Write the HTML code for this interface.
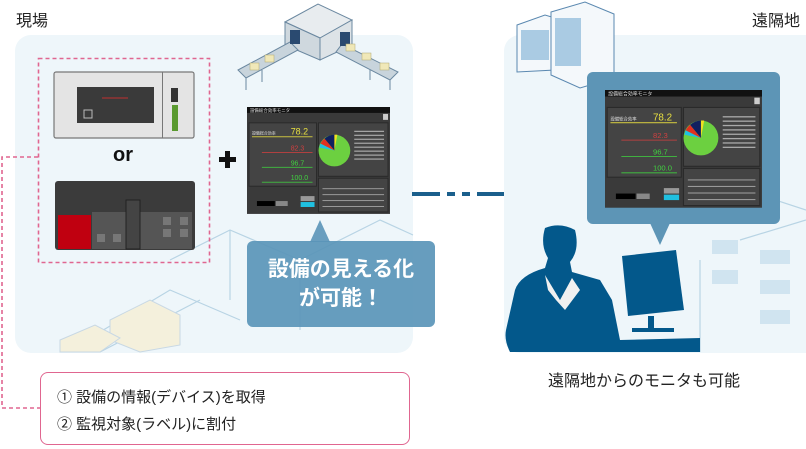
<!DOCTYPE html>
<html><head><meta charset="utf-8"><style>
body{margin:0;width:806px;height:449px;background:#fff;position:relative;overflow:hidden;font-family:"Liberation Sans","Noto Sans CJK JP",sans-serif;}
.abs{position:absolute}
</style></head><body>
<svg class="abs" style="left:0;top:0" width="806" height="449" viewBox="0 0 806 449">
<defs>
<g id="scr">
<rect x="0" y="0" width="144" height="108" fill="#3a3a3a"/>
<rect x="0" y="0" width="144" height="6" fill="#111"/>
<text x="3" y="5" font-size="4.5" fill="#ddd" font-family="Noto Sans CJK JP">設備総合効率モニタ</text>
<rect x="137" y="7" width="5" height="6" fill="#ccc"/>
<rect x="2" y="16" width="68" height="64" fill="#444" stroke="#2a2a2a"/>
<text x="5" y="28" font-size="4" fill="#ddd" font-family="Noto Sans CJK JP">設備総合効率</text>
<text x="44" y="28" font-size="9" fill="#e8e040">78.2</text>
<line x1="5" y1="30" x2="66" y2="30" stroke="#c8c040"/>
<text x="44" y="44" font-size="7" fill="#d04040">82.3</text><line x1="15" y1="46" x2="66" y2="46" stroke="#b04040"/>
<text x="44" y="59" font-size="7" fill="#40d040">96.7</text><line x1="15" y1="61" x2="66" y2="61" stroke="#40b040"/>
<text x="44" y="74" font-size="7" fill="#40d040">100.0</text><line x1="15" y1="76" x2="66" y2="76" stroke="#40b040"/>
<rect x="72" y="16" width="70" height="54" fill="#444" stroke="#2a2a2a"/>
<circle cx="88" cy="44" r="16" fill="#6cd040"/>
<path d="M88 44 L78 32 A16 16 0 0 1 90 28 Z" fill="#102060"/>
<path d="M88 44 L74 37 A16 16 0 0 1 78 32 Z" fill="#e03020"/>
<path d="M88 44 L73 41 A16 16 0 0 1 74 37 Z" fill="#20c0e0"/>
<path d="M88 44 L88 28 A16 16 0 0 1 91 28 Z" fill="#f0e020"/>
<g fill="#aaa"><rect x="108" y="24" width="30" height="1.2"/><rect x="108" y="28" width="30" height="1.2"/><rect x="108" y="32" width="30" height="1.2"/><rect x="108" y="36" width="30" height="1.2"/><rect x="108" y="40" width="30" height="1.2"/><rect x="108" y="44" width="30" height="1.2"/><rect x="108" y="48" width="30" height="1.2"/><rect x="108" y="52" width="30" height="1.2"/></g>
<rect x="72" y="72" width="70" height="34" fill="#444" stroke="#2a2a2a"/>
<g fill="#999"><rect x="76" y="82" width="62" height="1"/><rect x="76" y="88" width="62" height="1"/><rect x="76" y="94" width="62" height="1"/><rect x="76" y="100" width="62" height="1"/></g>
<rect x="10" y="95" width="18" height="5" fill="#000"/><rect x="29" y="95" width="12" height="5" fill="#888"/>
<rect x="54" y="90" width="14" height="5" fill="#999"/><rect x="54" y="96" width="14" height="5" fill="#20c0e0"/>
</g>
</defs>
<rect x="15" y="35" width="398" height="318" rx="16" fill="#eef6fa"/>
<rect x="504" y="35" width="320" height="318" rx="16" fill="#eef6fa"/>
<g stroke="#b8d4e4" fill="none" stroke-width="1.2">
<path d="M170 260 L230 230 L300 260 L300 330 M230 230 L230 300 M300 260 L380 220 L413 235"/>
<path d="M70 350 L170 290 L240 320 M100 352 L200 300"/>
<path d="M700 210 L760 195 L806 210 M700 260 L700 352 M740 240 L806 220"/>
</g>
<g fill="#f4f0dc" stroke="#c8d8e4"><path d="M110 320 L150 300 L180 315 L180 345 L140 352 L110 340 Z"/><path d="M60 340 L95 325 L120 338 L100 352 L60 352 Z"/></g>
<g fill="#d0e4f0"><rect x="760" y="250" width="30" height="14"/><rect x="760" y="280" width="30" height="14"/><rect x="760" y="310" width="30" height="14"/><rect x="712" y="240" width="26" height="14"/><rect x="712" y="270" width="26" height="14"/></g>
<!-- top factory machine -->
<g stroke="#6b88a0" stroke-width="1">
<path d="M285 22 L318 4 L352 20 L320 38 Z" fill="#e8ecef"/>
<path d="M285 22 L320 38 L320 60 L285 45 Z" fill="#cfd8de"/>
<path d="M320 38 L352 20 L352 45 L320 60 Z" fill="#dde3e7"/>
<path d="M238 70 L290 42 L298 50 L246 78 Z" fill="#c8d4dc"/>
<path d="M342 44 L398 72 L390 80 L336 52 Z" fill="#c8d4dc"/>
</g>
<g fill="#2a4a70"><rect x="290" y="30" width="10" height="14"/><rect x="340" y="32" width="10" height="14"/></g>
<g stroke="#6b88a0"><line x1="246" y1="78" x2="246" y2="90"/><line x1="262" y1="70" x2="262" y2="82"/><line x1="390" y1="80" x2="390" y2="90"/><line x1="370" y1="70" x2="370" y2="80"/></g>
<g fill="#f0e8b8" stroke="#b0a870" stroke-width=".5"><rect x="250" y="63" width="9" height="7"/><rect x="265" y="55" width="9" height="7"/><rect x="346" y="44" width="9" height="7"/><rect x="362" y="53" width="9" height="7"/><rect x="380" y="63" width="9" height="7"/></g>
<!-- buildings top right -->
<g stroke="#5a88b0" stroke-width="1" fill="#f4f8fb">
<path d="M517 25 L545 15 L555 18 L555 70 L517 72 Z"/>
<path d="M551 12 L585 2 L614 14 L614 78 L580 88 L551 75 Z"/>
</g>
<g fill="#8ab8d8"><rect x="521" y="30" width="28" height="30" opacity=".7"/><rect x="555" y="18" width="26" height="48" opacity=".7"/></g>
<rect x="38.5" y="58.5" width="171" height="204" fill="none" stroke="#e06690" stroke-width="1.6" stroke-dasharray="4 3"/>
<path d="M38 157 L2 157 L2 408 L40 408" fill="none" stroke="#e06690" stroke-width="1.6" stroke-dasharray="4 3"/>
<rect x="54" y="72" width="140" height="66" rx="2" fill="#e4e4e4" stroke="#777" stroke-width="1.2"/>
<rect x="77" y="87" width="77" height="36" fill="#3a3a3a"/>
<line x1="102" y1="98" x2="128" y2="98" stroke="#c03030"/>
<rect x="84" y="110" width="8" height="8" fill="none" stroke="#bbb"/>
<rect x="162" y="72" width="1" height="66" fill="#777"/>
<rect x="171" y="88" width="7" height="14" fill="#333"/>
<rect x="172" y="105" width="6" height="26" fill="#5a9a30"/>
<rect x="55" y="181" width="140" height="69" rx="3" fill="#3b3b3b"/>
<rect x="58" y="215" width="33" height="34" fill="#c00010"/>
<rect x="92" y="212" width="100" height="37" fill="#555"/>
<rect x="126" y="200" width="14" height="49" fill="#444" stroke="#222"/>
<g fill="#777"><rect x="97" y="234" width="8" height="8"/><rect x="113" y="234" width="8" height="8"/><rect x="163" y="217" width="8" height="8"/><rect x="180" y="217" width="8" height="8"/><rect x="163" y="229" width="8" height="8"/><rect x="180" y="229" width="8" height="8"/></g>
<rect x="219" y="157" width="17" height="5" fill="#111"/><rect x="225" y="151" width="5" height="17" fill="#111"/>
<use href="#scr" transform="translate(247,107) scale(0.993,0.99)"/>
<path d="M320 220 L330 242 L310 242 Z" fill="#5a95b8" opacity=".9"/>
<rect x="247" y="241" width="188" height="86" rx="6" fill="#5a95b8" opacity=".92"/>
<g fill="#1a5f8c"><rect x="412" y="192" width="28" height="4"/><rect x="447" y="192" width="8" height="4"/><rect x="462" y="192" width="8" height="4"/><rect x="477" y="192" width="27" height="4"/></g>
<rect x="587" y="72" width="193" height="152" rx="6" fill="#5d95b6"/>
<path d="M650 223 L670 223 L660 245 Z" fill="#5d95b6"/>
<use href="#scr" transform="translate(605,90) scale(1.09,1.09)"/>
<g fill="#03588b">
<path d="M545 228 Q560 222 575 230 Q580 250 570 262 L572 272 L600 280 L612 300 L618 330 L620 340 L700 338 L700 352 L510 352 Q504 340 506 330 L515 290 Q520 275 545 268 L548 258 Q540 245 545 228 Z"/>
<path d="M622 256 L676 250 L684 310 L628 316 Z"/>
<rect x="648" y="316" width="6" height="12"/><rect x="632" y="328" width="42" height="4"/>
</g>
<path d="M545 275 L560 300 L572 278 L580 290 L565 310 L556 300 L548 290 Z" fill="#f0f0f0"/>
</svg>
<div class="abs" style="left:16px;top:7px;font-size:16px;color:#222">現場</div>
<div class="abs" style="left:752px;top:7px;font-size:16px;color:#222">遠隔地</div>
<div class="abs" style="left:113px;top:144px;font-size:20px;font-weight:bold;color:#111">or</div>
<div class="abs" style="left:247px;top:255px;width:188px;text-align:center;font-size:21px;font-weight:bold;color:#fff;line-height:29px">設備の見える化<br>が可能！</div>
<div class="abs" style="left:40px;top:372px;width:370px;height:73px;border:1.5px solid #e06690;border-radius:8px;box-sizing:border-box"></div>
<div class="abs" style="left:57px;top:384px;font-size:15px;color:#222;line-height:27px">① 設備の情報(デバイス)を取得<br>② 監視対象(ラベル)に割付</div>
<div class="abs" style="left:548px;top:367px;font-size:16px;color:#222">遠隔地からのモニタも可能</div>
</body></html>
